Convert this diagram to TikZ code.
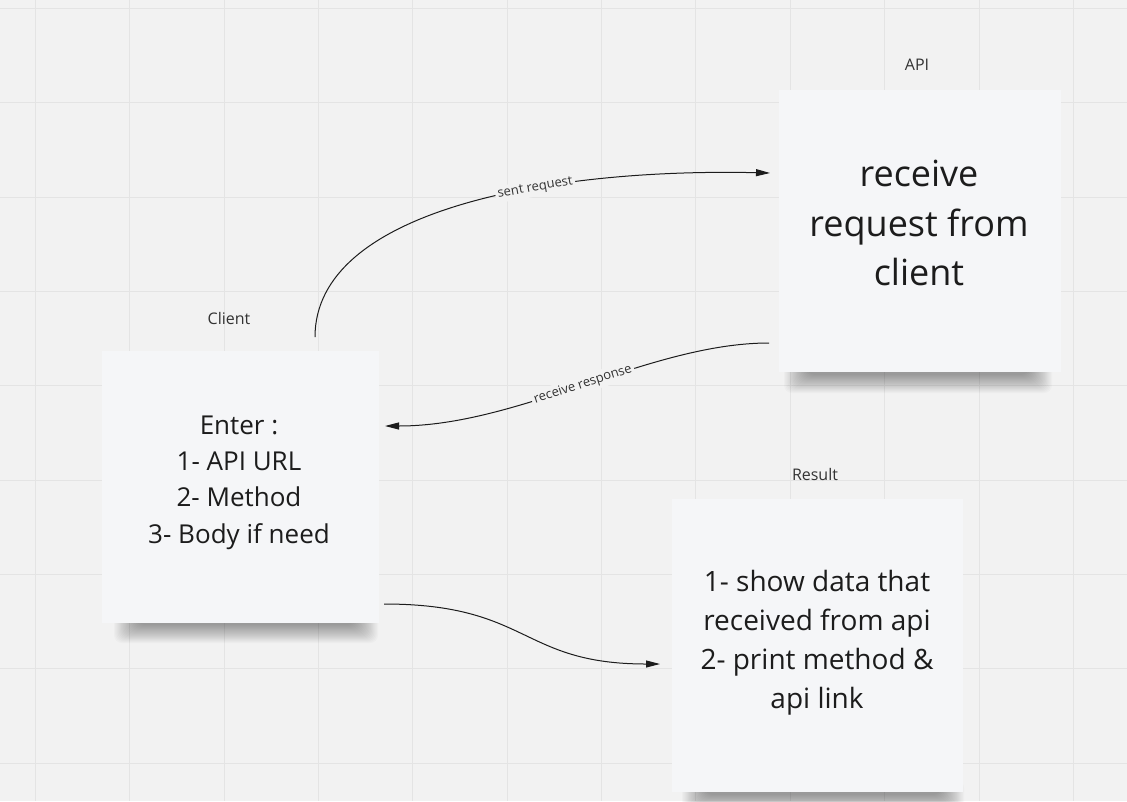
\documentclass[tikz,border=0pt]{standalone}
\usepackage{fontspec}
\setmainfont{Open Sans}
\usetikzlibrary{arrows.meta,calc}
\definecolor{bgc}{HTML}{F2F2F2}
\definecolor{gridc}{HTML}{E4E4E4}
\definecolor{notec}{HTML}{F5F6F8}
\definecolor{inkc}{HTML}{1C1C1C}
\definecolor{lblc}{HTML}{333333}
\tikzset{
  gridline/.style={draw=gridc, line width=1pt},
  note/.style={fill=notec, draw=none, inner sep=0pt, rectangle},
  notetext/.style={text=inkc, align=center, inner sep=0pt},
  title/.style={text=lblc, font=\fontsize{16}{19}\selectfont, inner sep=0pt},
  conn/.style={draw=inkc, line width=1pt, -{Triangle[length=14pt,width=7pt]}},
  lbl/.style={text=lblc, font=\fontsize{13}{15}\selectfont, fill=bgc, inner sep=2.5pt},
}
\newcommand{\noteshadow}[3]{%
  \foreach \k in {0,...,19}{%
    \fill[black, opacity=0.02, rounded corners=8pt]
      ({#1+1.2*\k},{#3-12}) rectangle ({#2-1.2*\k},{#3+21-0.95*\k});
  }%
}
\begin{document}
\begin{tikzpicture}[x=1pt,y=-1pt]
\useasboundingbox (0,0) rectangle (1127,801);
\fill[bgc] (0,0) rectangle (1127,801);
% grid
\foreach \i in {0,...,11}{\draw[gridline] ({35.5+94.35*\i},0) -- ++(0,801);}
\foreach \j in {0,...,8}{\draw[gridline] (0,{8.5+94.35*\j}) -- ++(1127,0);}
% shadows
\noteshadow{114}{378}{622}
\noteshadow{784}{1052}{372}
\noteshadow{682}{964}{792}
% notes
\node[note, minimum width=277pt, minimum height=272pt] (client) at (240.5,487) {};
\node[note, minimum width=282pt, minimum height=282pt] (api) at (920,231) {};
\node[note, minimum width=291pt, minimum height=293pt] (result) at (817,645.5) {};
% titles
\node[title] (clientt) at (229,318) {Client};
\node[title] (apit) at (917,65) {API};
\node[title] (resultt) at (815,474) {Result};
% note texts
\node[notetext, font=\fontsize{26}{36.3}\selectfont] (clienttext) at (239,482.5)
  {Enter :\\1- API URL\\2- Method\\3- Body if need};
\node[notetext, font=\fontsize{36}{49.5}\selectfont] (apitext) at (919,223)
  {receive\\request from\\client};
\node[notetext, font=\fontsize{28}{39}\selectfont] (resulttext) at (817,643)
  {1- show data that\\received from api\\2- print method \&\\api link};
% connector ends
\coordinate (c1) at (315,337);
\coordinate (a1) at (770,173);
\coordinate (a2) at (769,343);
\coordinate (c2) at (385,426);
\coordinate (c3) at (384,604);
\coordinate (r1) at (660,664);
% connectors
\draw[conn] (c1) .. controls (315,210) and (550,168) .. node[lbl, sloped, pos=0.635] (lsent) {sent request} (a1);
\draw[conn] (a2) .. controls (650,343) and (520,426) .. node[lbl, sloped, pos=0.5] (lrecv) {receive response} (c2);
\draw[conn] (c3) .. controls (530,604) and (520,664) .. (r1);
\end{tikzpicture}
\end{document}
